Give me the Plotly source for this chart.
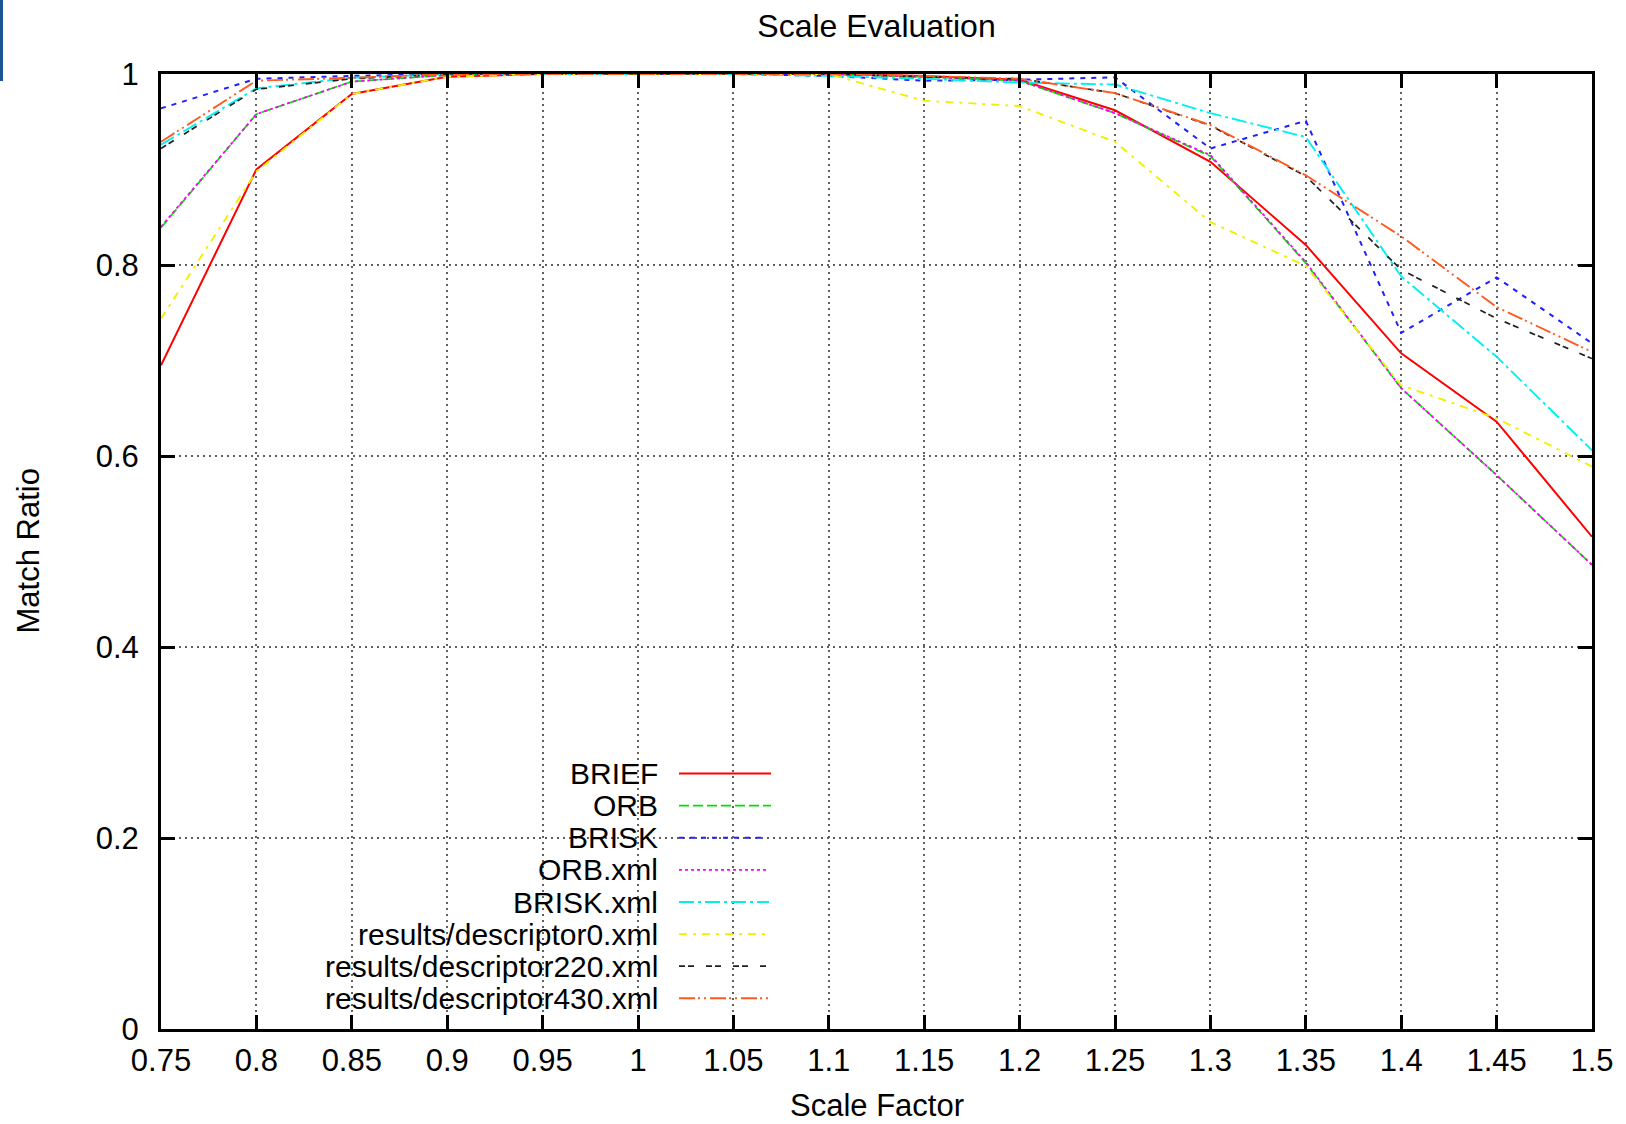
import plotly.graph_objects as go

# ---------------- data ----------------
scale = [0.75, 0.8, 0.85, 0.9, 0.95, 1.0, 1.05, 1.1, 1.15, 1.2, 1.25, 1.3, 1.35, 1.4, 1.45, 1.5]

brief = [0.695, 0.900, 0.979, 0.997, 1, 1, 1, 1, 0.998, 0.994, 0.962, 0.908, 0.821, 0.7075, 0.636, 0.5155]
orb = [0.839, 0.958, 0.992, 0.999, 1, 1, 1, 1, 0.997, 0.993, 0.959, 0.914, 0.802, 0.671, 0.580, 0.486]
brisk = [0.964, 0.995, 0.998, 1, 1, 1, 1, 0.998, 0.993, 0.994, 0.9965, 0.922, 0.951, 0.729, 0.787, 0.718]
orb_xml = [0.840, 0.958, 0.992, 0.999, 1, 1, 1, 1, 0.997, 0.993, 0.959, 0.915, 0.803, 0.671, 0.580, 0.486]
brisk_xml = [0.926, 0.985, 0.996, 1, 1, 1, 1, 0.998, 0.995, 0.991, 0.989, 0.959, 0.934, 0.788, 0.704, 0.606]
desc0 = [0.744, 0.898, 0.979, 0.997, 1, 1, 1, 1, 0.972, 0.9665, 0.929, 0.845, 0.799, 0.674, 0.6395, 0.589]
desc220 = [0.922, 0.984, 0.995, 1, 1, 1, 1, 1, 0.997, 0.995, 0.980, 0.946, 0.893, 0.795, 0.744, 0.702]
desc430 = [0.929, 0.993, 0.996, 1, 1, 1, 1, 1, 0.998, 0.995, 0.980, 0.9466, 0.894, 0.830, 0.756, 0.709]

series_names = ["BRIEF", "ORB", "BRISK", "ORB.xml", "BRISK.xml",
                "results/descriptor0.xml", "results/descriptor220.xml", "results/descriptor430.xml"]
series_values = [brief, orb, brisk, orb_xml, brisk_xml, desc0, desc220, desc430]

x_tick_vals = [0.75, 0.8, 0.85, 0.9, 0.95, 1.0, 1.05, 1.1, 1.15, 1.2, 1.25, 1.3, 1.35, 1.4, 1.45, 1.5]
x_tick_text = ["0.75", "0.8", "0.85", "0.9", "0.95", "1", "1.05", "1.1", "1.15", "1.2", "1.25", "1.3", "1.35", "1.4", "1.45", "1.5"]
y_tick_vals = [0, 0.2, 0.4, 0.6, 0.8, 1.0]
y_tick_text = ["0", "0.2", "0.4", "0.6", "0.8", "1"]

# ---------------- styles ----------------
colors = ["#ff0000", "#00e000", "#2020ff", "#ff00ff", "#00f0f0", "#f0f000", "#202020", "#ff5a20"]
dashes = ["solid", "10px,4px", "5px,6px", "3px,3px", "15px,4px,3px,4px",
          "8px,6px,3px,6px", "6px,3px,6px,12px", "16px,3px,2px,4px,2px,4px"]
widths = [2, 1.7, 2, 1.8, 1.9, 1.9, 1.7, 1.9]
sample_end = [771, 771, 765, 769, 769, 766, 769, 771]

FONT = "Liberation Sans, Arial, sans-serif"
W, H = 1626, 1124
L, R, T, B = 161, 34, 74, 95
PW, PH = W - L - R, H - T - B

def px_x(x):
    return (x - L) / PW

def px_y(y):
    return (H - B - y) / PH

fig = go.Figure()
for name, vals, c, d, w in zip(series_names, series_values, colors, dashes, widths):
    fig.add_trace(go.Scatter(x=scale, y=vals, mode="lines", name=name,
                             line=dict(color=c, dash=d, width=w), showlegend=False))

# white legend box hiding the grid
shapes = [dict(type="rect", xref="paper", yref="paper", layer="between",
               x0=0, x1=px_x(788), y0=0, y1=px_y(757),
               fillcolor="white", line=dict(width=0))]
annotations = []
row0, row_step = 773.6, 32.1
for i, (name, c, d, w) in enumerate(zip(series_names, colors, dashes, widths)):
    yy = px_y(row0 + i * row_step)
    annotations.append(dict(text=name, xref="paper", yref="paper", x=px_x(660), y=yy,
                            xanchor="right", yanchor="middle", showarrow=False,
                            font=dict(family=FONT, size=30, color="black")))
    shapes.append(dict(type="line", xref="paper", yref="paper", layer="above",
                       x0=px_x(679), x1=px_x(sample_end[i]), y0=yy, y1=yy,
                       line=dict(color=c, dash=d, width=w)))

# axis titles
annotations.append(dict(text="Scale Factor", xref="paper", yref="paper", x=0.5, y=px_y(1105),
                        xanchor="center", yanchor="middle", showarrow=False,
                        font=dict(family=FONT, size=31, color="black")))
annotations.append(dict(text="Match Ratio", xref="paper", yref="paper", x=px_x(28), y=0.5,
                        xanchor="center", yanchor="middle", showarrow=False, textangle=-90,
                        font=dict(family=FONT, size=31, color="black")))
# dark blue strip at the top-left corner
shapes.append(dict(type="rect", xref="paper", yref="paper", layer="above",
                   x0=px_x(0), x1=px_x(3), y0=px_y(81), y1=px_y(0),
                   fillcolor="#1c5596", line=dict(width=0)))

axis_common = dict(showline=True, linecolor="black", linewidth=3, mirror="ticks",
                   ticks="inside", ticklen=14, tickwidth=2.5, tickcolor="black",
                   showgrid=True, gridcolor="#606060", gridwidth=1.5, griddash="2px,4px",
                   zeroline=False, tickfont=dict(family=FONT, size=31, color="black"))

fig.update_layout(
    width=W, height=H,
    margin=dict(l=L, r=R, t=T, b=B, pad=0),
    paper_bgcolor="white", plot_bgcolor="white",
    title=dict(text="Scale Evaluation", x=0.5, xref="paper", y=1 - 26 / H, yref="container",
               xanchor="center", yanchor="middle",
               font=dict(family=FONT, size=32, color="black")),
    xaxis=dict(range=[0.75, 1.5], tickvals=x_tick_vals, ticktext=x_tick_text,
               ticklabelstandoff=2, **axis_common),
    yaxis=dict(range=[0, 1], tickvals=y_tick_vals, ticktext=y_tick_text,
               ticklabelstandoff=13, **axis_common),
    shapes=shapes, annotations=annotations, showlegend=False,
)

fig.write_html("out.html", config={"displayModeBar": False},
               post_script="document.body.style.margin='0px';")
